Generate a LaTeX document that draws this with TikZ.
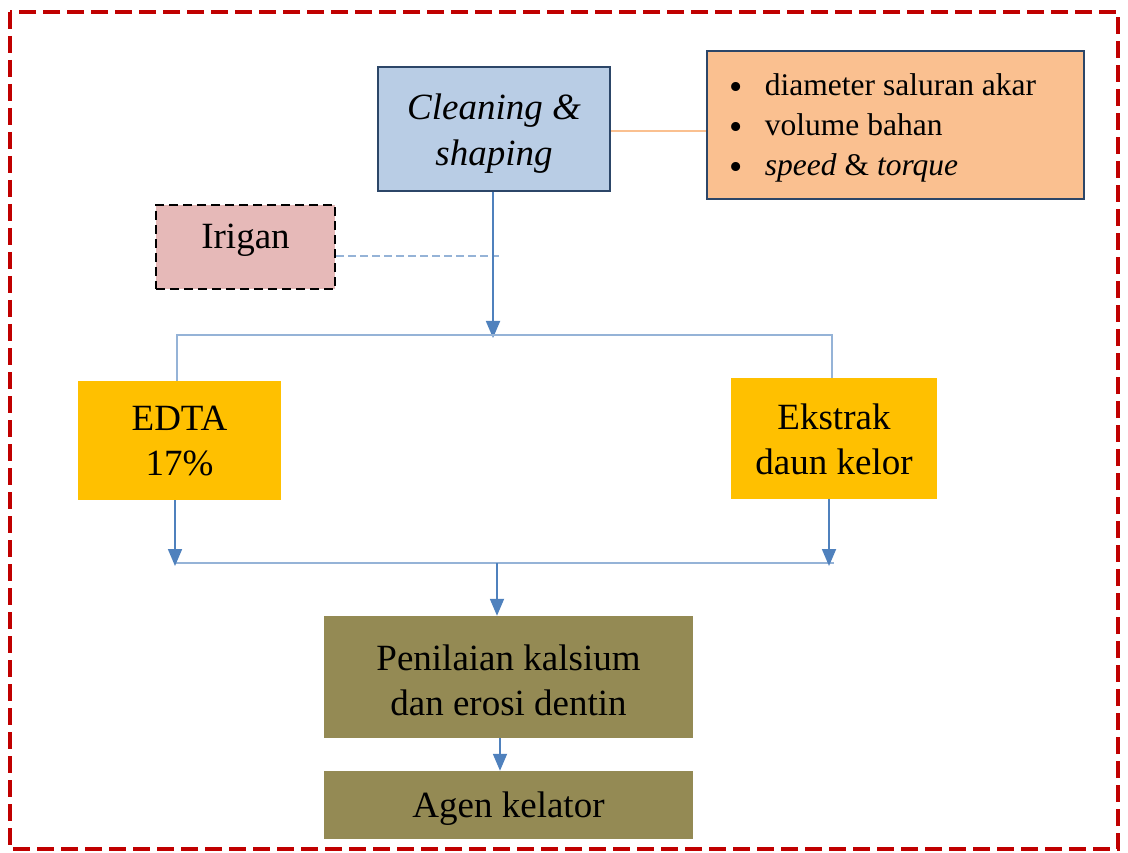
\documentclass[tikz,border=0pt]{standalone}
\usepackage{fontspec}
\setmainfont{Liberation Serif}
\usetikzlibrary{arrows.meta}
\definecolor{frame}{HTML}{C00000}
\definecolor{navy}{HTML}{2C4668}
\definecolor{cleanfill}{HTML}{B9CDE5}
\definecolor{orangefill}{HTML}{FAC090}
\definecolor{irifill}{HTML}{E6B9B8}
\definecolor{gold}{HTML}{FFC000}
\definecolor{olive}{HTML}{948A54}
\definecolor{arrblue}{HTML}{4F81BD}
\definecolor{barblue}{HTML}{95B3D7}
\newcommand{\bul}{\makebox[35pt][l]{\raisebox{-4pt}{\scalebox{1.2}{•}}}}
\tikzset{
  mainfont/.style={font=\fontsize{37}{45}\selectfont},
  box/.style={rectangle, inner sep=0pt, align=center, mainfont, text=black},
  txt/.style={inner sep=0pt, align=center, mainfont, text=black},
  darkbox/.style={box, draw=navy, line width=2.5pt},
  arr/.style={draw=arrblue, line width=1.8pt, -{Triangle[length=17pt,width=14pt]}},
  bar/.style={draw=barblue, line width=2pt},
}
\begin{document}
\begin{tikzpicture}[x=1pt,y=-1pt]
\useasboundingbox (0,0) rectangle (1128,853);
\draw[frame, line width=4pt, dash pattern=on 17pt off 7pt] (10,12) rectangle (1118,849);

\node[darkbox, fill=cleanfill, minimum width=232pt, minimum height=124pt,
      label={[txt, name=cleantext, yshift=-5pt, font=\fontsize{37}{46}\selectfont\itshape]center:{Cleaning \&\\shaping}}] (clean) at (494,129) {};
\node[darkbox, fill=orangefill, minimum width=377pt, minimum height=148pt] (params) at (895.5,125) {};
\node[txt, anchor=west, align=left, font=\fontsize{31.5}{40}\selectfont] (paramtext) at ([xshift=24pt, yshift=-3pt]params.west)
  {\bul diameter saluran akar\\\bul volume bahan\\\bul\textit{speed} \& \textit{torque}};
\node[box, fill=irifill, draw=black, line width=2.5pt, dash pattern=on 9pt off 5pt,
      minimum width=179pt, minimum height=84pt,
      label={[txt, name=irigantext, yshift=7pt]center:Irigan}] (irigan) at (245.5,247) {};
\node[box, fill=gold, minimum width=203pt, minimum height=119pt,
      label={[txt, name=edtatext, yshift=-1pt]center:{EDTA\\17\%}}] (edta) at (179.5,440.5) {};
\node[box, fill=gold, minimum width=206pt, minimum height=121pt,
      label={[txt, name=ekstraktext, yshift=-1pt]center:{Ekstrak\\daun kelor}}] (ekstrak) at (834,438.5) {};
\node[box, fill=olive, minimum width=369pt, minimum height=122pt,
      label={[txt, name=penilaiantext, yshift=-3pt]center:{Penilaian kalsium\\dan erosi dentin}}] (penilaian) at (508.5,677) {};
\node[box, fill=olive, minimum width=369pt, minimum height=68pt,
      label={[txt, name=agentext, yshift=-4pt]center:Agen kelator}] (agen) at (508.5,805) {};

% connectors
\draw[draw=orangefill, line width=1.5pt] (clean.east |- 0,131) -- (params.west |- 0,131);
\coordinate (irj) at (499,256);
\draw[draw=barblue, line width=1.5pt, dash pattern=on 8pt off 4pt] (irigan.east |- irj) -- (irj);
\coordinate (topbar) at (493,335);
\draw[arr] (clean.south -| topbar) -- ([yshift=-3pt]topbar);
\coordinate (tl) at (177,335);
\coordinate (tr) at (832,335);
\draw[bar] (edta.north -| tl) -- (tl) -- (tr) -- (ekstrak.north -| tr);

\coordinate (botbar) at (497,563);
\coordinate (bl) at (174,563);
\coordinate (br) at (834,563);
\draw[bar] (bl) -- (br);
\coordinate (ea) at (175,500);
\coordinate (ka) at (829,499);
\draw[arr] (edta.south -| ea) -- ([yshift=-3pt]ea |- botbar);
\draw[arr] (ekstrak.south -| ka) -- ([yshift=-3pt]ka |- botbar);
\draw[arr] (botbar) -- (botbar |- penilaian.north);
\coordinate (pa) at (500,738);
\draw[arr] (penilaian.south -| pa) -- (pa |- agen.north);
\end{tikzpicture}
\end{document}
